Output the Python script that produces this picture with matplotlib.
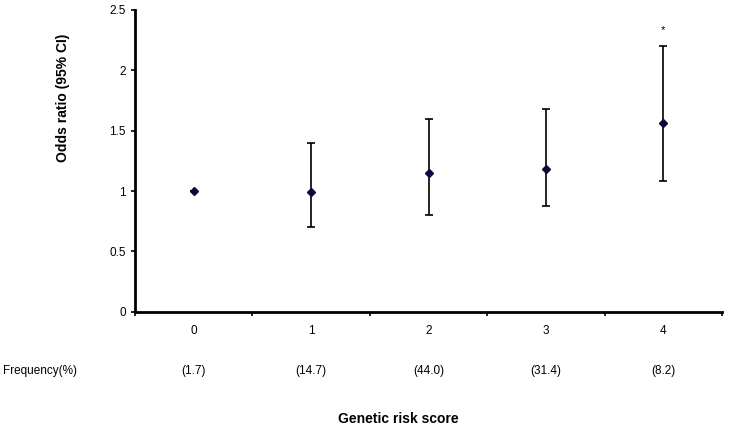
import matplotlib.pyplot as plt

plt.rcParams['font.family'] = ['Liberation Sans', 'DejaVu Sans']

# data
scores = ['0', '1', '2', '3', '4']
odds_ratio = [1.0, 0.99, 1.15, 1.18, 1.56]
ci_low = [1.0, 0.70, 0.80, 0.88, 1.08]
ci_high = [1.0, 1.40, 1.60, 1.68, 2.20]
frequency = ['(1.7)', '(14.7)', '(44.0)', '(31.4)', '(8.2)']

fig = plt.figure(figsize=(7.3, 4.29), dpi=100)
ax = fig.add_axes([0.185, 0.273, 0.804, 0.704])

x = list(range(len(scores)))
err_lo = [o - l for o, l in zip(odds_ratio, ci_low)]
err_hi = [h - o for o, h in zip(odds_ratio, ci_high)]
ax.errorbar(x, odds_ratio, yerr=[err_lo, err_hi], fmt='D', color='#0a0a3a',
             ecolor='black', elinewidth=1.2, capsize=3, capthick=1.2,
             markersize=4)

# significance mark over the last group
ax.text(4, 2.33, '*', ha='center', va='center', fontsize=8)

ax.set_xlim(-0.5, 4.5)
ax.set_ylim(0, 2.5)
ax.set_yticks([0, 0.5, 1, 1.5, 2, 2.5])
ax.set_yticklabels(['0', '0.5', '1', '1.5', '2', '2.5'])
ax.set_xticks([i + 0.5 for i in range(-1, 5)])
ax.set_xticklabels([])
ax.tick_params(axis='both', direction='out', length=3, width=1.2, labelsize=8.5)

for i, s in enumerate(scores):
    ax.text(i, -0.158, s, ha='center', va='center', fontsize=8.5, clip_on=False)
    ax.text(i, -0.49, frequency[i], ha='center', va='center', fontsize=8.5,
            clip_on=False)
fig.text(40 / 730, (429 - 371) / 429, 'Frequency(%)', ha='center', va='center',
         fontsize=8.5)

for side in ['top', 'right']:
    ax.spines[side].set_visible(False)
ax.spines['left'].set_linewidth(2)
ax.spines['bottom'].set_linewidth(2)

fig.text(63 / 730, (429 - 98) / 429, 'Odds ratio (95% CI)', rotation=90,
         ha='center', va='center', fontsize=10, fontweight='bold')
fig.text(398 / 730, (429 - 419) / 429, 'Genetic risk score', ha='center',
         va='center', fontsize=10, fontweight='bold')

fig.savefig('out.png', dpi=100)
